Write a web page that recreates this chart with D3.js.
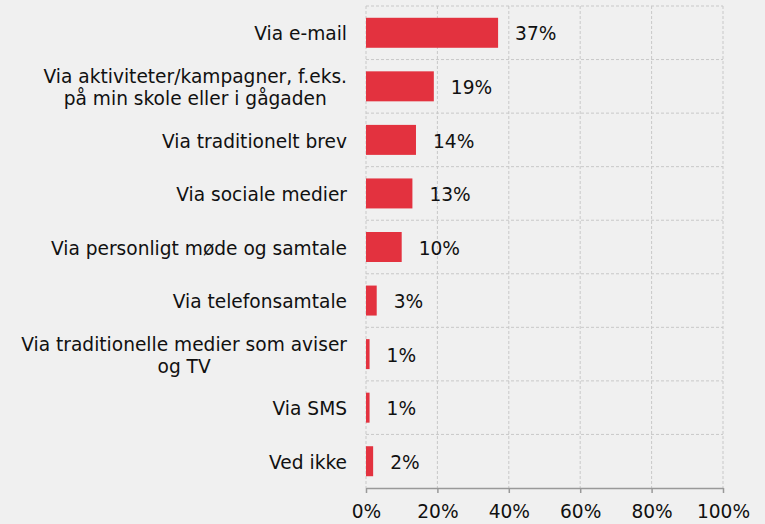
<!DOCTYPE html>
<html>
<head>
<meta charset="utf-8">
<script src="https://cdn.jsdelivr.net/npm/d3@7"></script>
<style>
  body { margin: 0; background: #f0f0f0; }
  svg { display: block; font-family: "DejaVu Sans", Verdana, sans-serif; }
</style>
</head>
<body>
<div id="chart"></div>
<script>
// data
var categories = [
  ["Via e-mail"],
  ["Via aktiviteter/kampagner, f.eks.", "på min skole eller i gågaden"],
  ["Via traditionelt brev"],
  ["Via sociale medier"],
  ["Via personligt møde og samtale"],
  ["Via telefonsamtale"],
  ["Via traditionelle medier som aviser", "og TV"],
  ["Via SMS"],
  ["Ved ikke"]
];
var values = [37, 19, 14, 13, 10, 3, 1, 1, 2];
var xTicks = [0, 20, 40, 60, 80, 100];

var W = 765, H = 524;
var margin = {top: 6, right: 42, bottom: 36, left: 366},
    width = W - margin.left - margin.right,
    height = H - margin.top - margin.bottom;

var fontSize = 18.6;

var svg = d3.select('#chart').append('svg')
    .attr('width', W)
    .attr('height', H)
  .append('g')
    .attr('transform', 'translate(' + margin.left + ',' + margin.top + ')');

var x = d3.scaleLinear().domain([0, 100]).range([0, width]);
var y = d3.scaleBand()
    .domain(d3.range(values.length))
    .range([0, height])
    .paddingInner(0.44)
    .paddingOuter(0.22);

var step = y.step();
var bandStart = function(i) { return y(i) - y.paddingInner() * step / 2; };

// vertical grid lines
svg.selectAll('.vgrid')
    .data(xTicks)
  .enter().append('line')
    .attr('class', 'vgrid')
    .attr('x1', function(d) { return x(d); })
    .attr('x2', function(d) { return x(d); })
    .attr('y1', 0)
    .attr('y2', height)
    .attr('stroke', '#c8c8c8')
    .attr('stroke-dasharray', '3,2');

// horizontal grid lines at band boundaries
svg.selectAll('.hgrid')
    .data(d3.range(values.length))
  .enter().append('line')
    .attr('class', 'hgrid')
    .attr('x1', 0)
    .attr('x2', width)
    .attr('y1', function(i) { return bandStart(i); })
    .attr('y2', function(i) { return bandStart(i); })
    .attr('stroke', '#c8c8c8')
    .attr('stroke-dasharray', '3,2');

// bars
svg.selectAll('.bar')
    .data(values)
  .enter().append('rect')
    .attr('class', 'bar')
    .attr('x', x(0))
    .attr('y', function(d, i) { return y(i); })
    .attr('width', function(d) { return x(d) - x(0); })
    .attr('height', y.bandwidth())
    .attr('fill', '#e3323f');

// value labels
svg.selectAll('.val')
    .data(values)
  .enter().append('text')
    .attr('class', 'val')
    .attr('x', function(d) { return x(d) + 17; })
    .attr('y', function(d, i) { return y(i) + y.bandwidth() / 2 + 1; })
    .attr('dy', '0.36em')
    .attr('font-size', fontSize)
    .attr('fill', '#111')
    .text(function(d) { return d + '%'; });

// category labels
var lineH = 22;
var cat = svg.selectAll('.cat')
    .data(categories)
  .enter().append('text')
    .attr('class', 'cat')
    .attr('text-anchor', 'middle')
    .attr('font-size', fontSize)
    .attr('fill', '#111');

cat.each(function(lines, i) {
  var t = d3.select(this);
  var cy = y(i) + y.bandwidth() / 2 + 1;
  var y0 = cy - (lines.length - 1) * lineH / 2;
  // widest line decides the center so the block ends at the axis
  var tmp = [];
  lines.forEach(function(l, j) {
    tmp.push(t.append('tspan')
      .attr('y', y0 + j * lineH)
      .attr('dy', '0.36em')
      .text(l));
  });
  var maxW = d3.max(tmp, function(s) { return s.node().getComputedTextLength(); });
  var cx = -19 - maxW / 2;
  tmp.forEach(function(s) { s.attr('x', cx); });
});

// x axis
var xAxis = d3.axisBottom(x)
    .tickValues(xTicks)
    .tickSize(5)
    .tickSizeOuter(0)
    .tickPadding(12)
    .tickFormat(function(d) { return d + '%'; });

var gx = svg.append('g')
    .attr('transform', 'translate(0,' + height + ')')
    .call(xAxis);
gx.select('.domain').attr('stroke', '#999').attr('stroke-width', 1.5);
gx.selectAll('.tick line').attr('stroke', '#999').attr('stroke-width', 1.5);
gx.selectAll('.tick text')
    .attr('font-size', fontSize)
    .attr('font-family', '"DejaVu Sans", Verdana, sans-serif')
    .attr('fill', '#111');
</script>
</body>
</html>
